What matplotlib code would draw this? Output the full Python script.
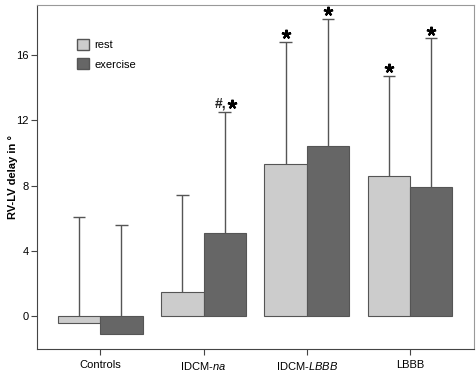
import numpy as np
import matplotlib.pyplot as plt
from matplotlib.transforms import offset_copy

plt.rcParams['font.family'] = ['Liberation Sans', 'DejaVu Sans']
plt.rcParams['mathtext.fontset'] = 'custom'
plt.rcParams['mathtext.it'] = 'Liberation Sans:italic'
plt.rcParams['mathtext.rm'] = 'Liberation Sans'

# Data
groups = ['Controls', 'IDCM-$\\it{na}$', 'IDCM-$\\it{LBBB}$', 'LBBB']
rest = [-0.4, 1.5, 9.3, 8.6]
exercise = [-1.1, 5.1, 10.4, 7.9]
rest_err_top = [6.1, 7.4, 16.8, 14.7]
exercise_err_top = [5.6, 12.5, 18.2, 17.0]
rest_marks = ['', '', '*', '*']
exercise_marks = ['', '#,*', '*', '*']

x = np.arange(len(groups))
w = 0.41
edge = '#555555'

fig = plt.figure(figsize=(4.77, 3.73), dpi=100)
ax = fig.add_axes([0.078, 0.064, 0.916, 0.923])

for xs, vals, tops, col, marks in [(x - w / 2, rest, rest_err_top, '#cccccc', rest_marks),
                                    (x + w / 2, exercise, exercise_err_top, '#666666', exercise_marks)]:
    # one-sided error bars drawn behind bars
    ax.vlines(xs, 0, tops, color=edge, lw=1, zorder=1)
    ax.hlines(tops, xs - 0.06, xs + 0.06, color=edge, lw=1, zorder=1)
    ax.bar(xs, vals, width=w, color=col, edgecolor=edge, lw=0.8, zorder=2)
    for xi, t, m in zip(xs, tops, marks):
        if not m:
            continue
        dx = 5 if m != '*' else 0
        tr = offset_copy(ax.transData, fig=fig, x=dx, y=5.6, units='points')
        ax.plot(xi, t, marker=(5, 2, 0), ms=6.8, mew=1.6, color='black',
                transform=tr, clip_on=False)
        if m != '*':
            ax.annotate(m[:-1], (xi, t), xytext=(dx - 4, 5.8), textcoords='offset points',
                        ha='right', va='center', fontsize=10, fontweight='bold',
                        color='#222222')

ax.set_xlim(-0.61, 3.62)
ax.set_ylim(-2, 19.05)
ax.set_yticks([0, 4, 8, 12, 16])
ax.set_xticks(x)
ax.set_xticklabels(groups)
ax.tick_params(labelsize=8, length=4, color='#444444', width=0.8, pad=2)
ax.tick_params(axis='x', pad=4)
ax.set_ylabel('RV-LV delay in °', fontsize=8, fontweight='bold', labelpad=-1)
for s in ax.spines.values():
    s.set_color('#999999')
ax.spines['left'].set_color('#444444')
ax.spines['bottom'].set_color('#444444')

# legend
ax.legend(handles=[plt.Rectangle((0, 0), 1, 1, fc='#cccccc', ec=edge),
                   plt.Rectangle((0, 0), 1, 1, fc='#666666', ec=edge)],
          labels=['rest', 'exercise'], loc='upper left',
          bbox_to_anchor=(0.068, 0.93), frameon=False, fontsize=8,
          handlelength=1.1, handleheight=1.1, handletextpad=0.5, labelspacing=0.75)

fig.savefig('out.png', dpi=100)
